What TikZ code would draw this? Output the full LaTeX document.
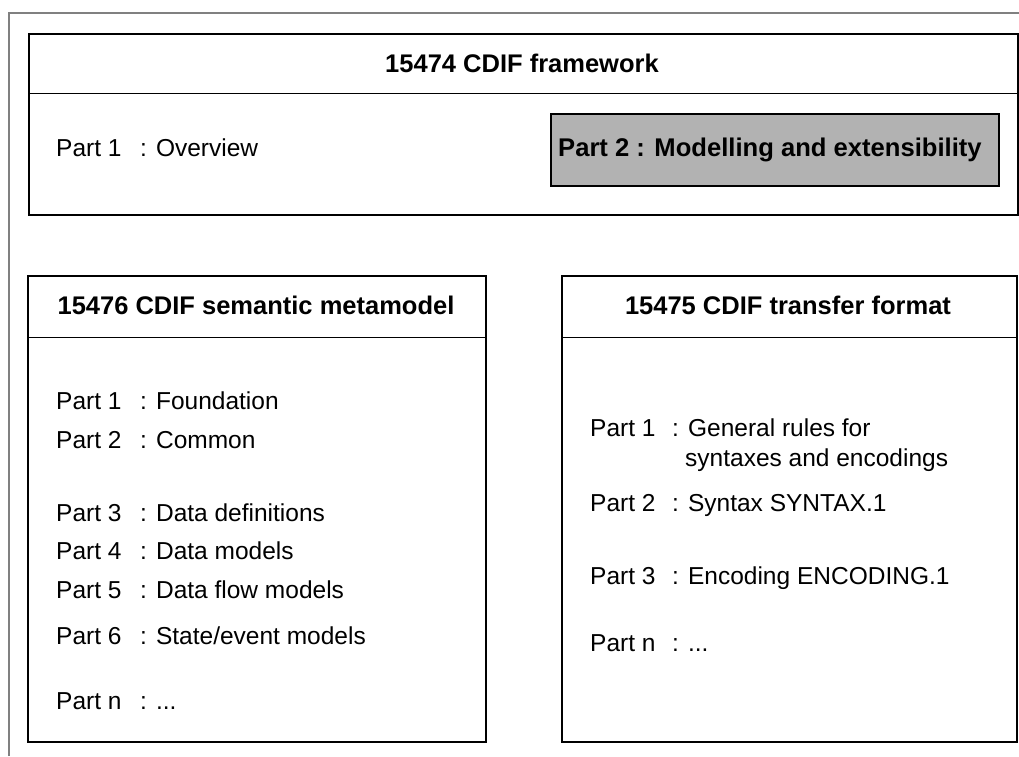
\documentclass[tikz,border=0pt]{standalone}
\usepackage{fontspec}
\setmainfont{Liberation Sans}
\definecolor{partgray}{gray}{0.70}
\newcommand{\partno}[3][84pt]{\makebox[#1][l]{Part #2}: #3}

\begin{document}
\begin{tikzpicture}[x=1pt,y=-1pt,
    box/.style={draw,line width=1.7pt,inner sep=0pt,anchor=north west},
    rule/.style={line width=0.9pt},
    title/.style={inner sep=0pt,font=\fontsize{25.5}{30}\selectfont\bfseries},
    entry/.style={anchor=west,inner sep=0pt,text height=18pt,text depth=5pt,
                  font=\fontsize{24.5}{29}\selectfont}]
    \useasboundingbox (0,0) rectangle (1019,756);
    % outer frame, cut by the page edge
    \draw[line width=1.4pt,gray] (9,756) -- (9,13) -- (1019,13);

    % 15474 framework
    \node[box,minimum width=989pt,minimum height=181pt] (frame) at (28,33) {};
    \draw[rule] ([yshift=-60pt]frame.north west) -- ([yshift=-60pt]frame.north east);
    \node[title] (frametitle) at (522,63) {15474 CDIF framework};
    \node[entry] (fw1) at (56,150) {\partno{1}{Overview}};
    \node[box,fill=partgray,minimum width=448pt,minimum height=72pt] (ext) at (550,113) {};
    \node[entry,font=\fontsize{25.6}{30}\selectfont\bfseries] (fw2) at (558,150)
        {Part 2 : Modelling and extensibility};

    % 15476 semantic metamodel
    \node[box,minimum width=458pt,minimum height=466pt] (sem) at (27,275) {};
    \draw[rule] ([yshift=-62pt]sem.north west) -- ([yshift=-62pt]sem.north east);
    \node[title] (semtitle) at (256,305) {15476 CDIF semantic metamodel};
    \node[entry] (sm1) at (56,403) {\partno{1}{Foundation}};
    \node[entry] (sm2) at (56,442) {\partno{2}{Common}};
    \node[entry] (sm3) at (56,515) {\partno{3}{Data definitions}};
    \node[entry] (sm4) at (56,553) {\partno{4}{Data models}};
    \node[entry] (sm5) at (56,592) {\partno{5}{Data flow models}};
    \node[entry] (sm6) at (56,638) {\partno{6}{State/event models}};
    \node[entry] (smn) at (56,703) {\partno{n}{...}};

    % 15475 transfer format
    \node[box,minimum width=455pt,minimum height=466pt] (tf) at (561,275) {};
    \draw[rule] ([yshift=-62pt]tf.north west) -- ([yshift=-62pt]tf.north east);
    \node[title] (tftitle) at (788,305) {15475 CDIF transfer format};
    \node[entry] (tf1) at (590,430) {\partno[82pt]{1}{General rules for}};
    \node[entry] (tf1b) at ([xshift=95pt,yshift=-30pt]tf1.west) {syntaxes and encodings};
    \node[entry] (tf2) at (590,505) {\partno[82pt]{2}{Syntax SYNTAX.1}};
    \node[entry] (tf3) at (590,578) {\partno[82pt]{3}{Encoding ENCODING.1}};
    \node[entry] (tfn) at (590,645) {\partno[82pt]{n}{...}};
\end{tikzpicture}
\end{document}
